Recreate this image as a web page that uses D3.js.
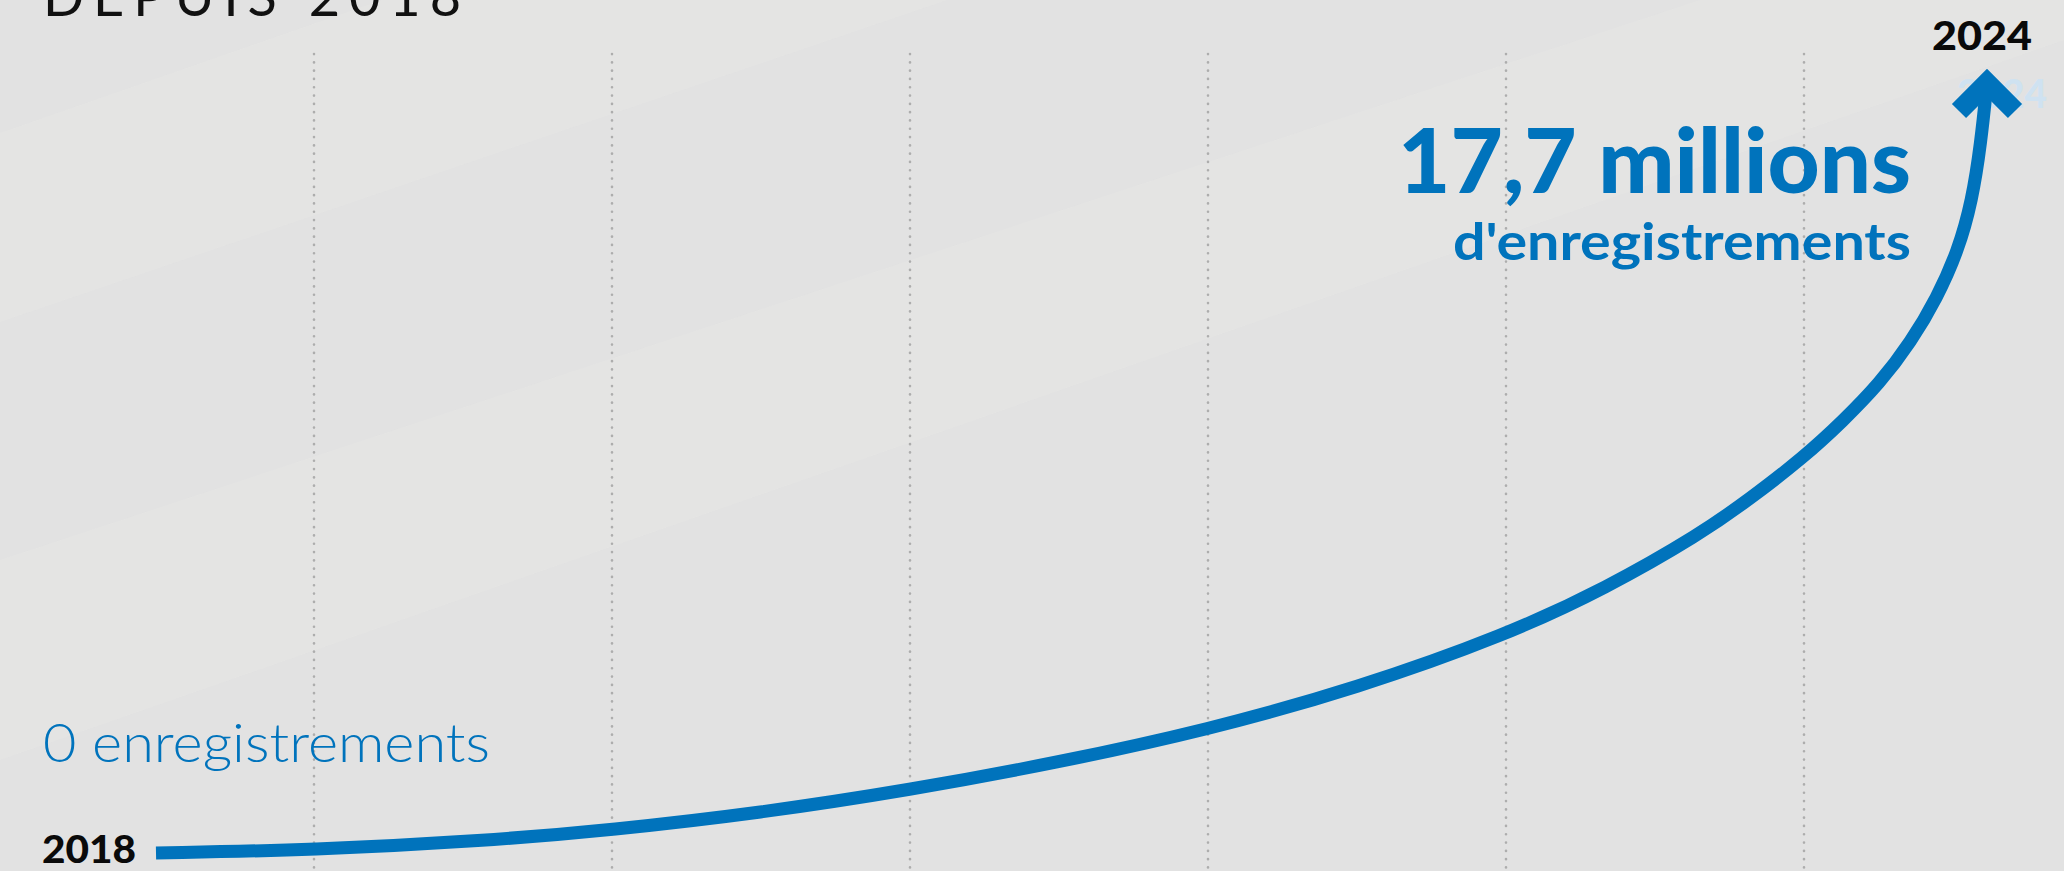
<!DOCTYPE html>
<html>
<head>
<meta charset="utf-8">
<script src="https://cdn.jsdelivr.net/npm/d3@7"></script>
<style>
  html, body { margin: 0; padding: 0; background: #e2e2e2; }
  svg { display: block; }
  text { font-family: Lato, "Open Sans", sans-serif; }
</style>
</head>
<body>
<svg id="chart" width="2064" height="871"></svg>
<script>
// ---- data ----
const title = "DEPUIS 2018";
const startLabel = "2018";
const endLabel = "2024";
const startValueLabel = "0 enregistrements";
const endValueLabel = "17,7 millions";
const endValueSub = "d'enregistrements";
// time (years) and cumulative registrations (millions)
const years  = [2018.000, 2018.518, 2019.078, 2019.494, 2019.979, 2020.471, 2020.949, 2021.447, 2021.936, 2022.424, 2022.752,
                2023.060, 2023.223, 2023.400, 2023.528, 2023.649, 2023.751, 2023.836, 2023.905, 2023.951, 2023.980, 2024.000];
const values = [0, 0.07, 0.28, 0.53, 0.92, 1.45, 2.07, 2.83, 3.79, 5.01, 6.09,
                7.33, 8.14, 9.10, 9.93, 10.80, 11.75, 12.76, 13.84, 14.99, 16.32, 17.7];
const gridIndex = [1, 2, 3, 4, 5, 6];

// ---- drawing ----
const W = 2064, H = 871;
const blue = "#0073bc";
const svg = d3.select("#chart");

// background with faint diagonal bands
svg.append("rect").attr("width", W).attr("height", H).attr("fill", "#e2e2e2");
const bands = [
  [[0,133],[382,0],[947,0],[0,322]],
  [[0,560],[1700,0],[2064,0],[2064,40],[0,760]]
];
svg.selectAll("polygon.band").data(bands).join("polygon")
  .attr("class", "band")
  .attr("points", d => d.map(p => p.join(",")).join(" "))
  .attr("fill", "#e5e5e3").attr("opacity", 0.8);

const x = d3.scaleLinear().domain([2018, 2024]).range([156, 1987]);
const y = d3.scaleLinear().domain([0, 17.7]).range([853, 83]);
const gx = d3.scaleLinear().domain([0, 7]).range([16, 2102]);

// dotted vertical grid
svg.selectAll("line.grid").data(gridIndex).join("line")
  .attr("class", "grid")
  .attr("x1", d => gx(d)).attr("x2", d => gx(d))
  .attr("y1", 54).attr("y2", H)
  .attr("stroke", "#adadad").attr("stroke-width", 2.6)
  .attr("stroke-linecap", "round")
  .attr("stroke-dasharray", "0.1,8.2");

// title (cut off at top)
svg.append("text").text(title)
  .attr("x", 43).attr("y", 16)
  .attr("font-size", 54).attr("font-weight", 400).attr("fill", "#111")
  .attr("textLength", 418).attr("lengthAdjust", "spacing");

// ghost 2024 label
svg.append("text").text(endLabel)
  .attr("x", 1957).attr("y", 108)
  .attr("font-size", 40).attr("font-weight", 900).attr("fill", "#cfe2f1")
  .attr("textLength", 90).attr("lengthAdjust", "spacingAndGlyphs");

// curve
const data = years.map((t, i) => ({ t, v: values[i] }));
const line = d3.line().x(d => x(d.t)).y(d => y(d.v)).curve(d3.curveBasis);
svg.append("path").datum(data)
  .attr("d", line)
  .attr("fill", "none").attr("stroke", blue).attr("stroke-width", 13)
  .attr("stroke-linecap", "butt");

// arrow head
const ex = x(years[years.length - 1]), ey = y(values[values.length - 1]);
svg.append("polyline")
  .attr("points", [[ex - 28, ey + 28], [ex, ey], [ex + 28, ey + 28]].map(p => p.join(",")).join(" "))
  .attr("fill", "none").attr("stroke", blue).attr("stroke-width", 20)
  .attr("stroke-linejoin", "miter").attr("stroke-linecap", "butt");

// year labels
svg.append("text").text(endLabel)
  .attr("x", 1932).attr("y", 50)
  .attr("font-size", 39).attr("font-weight", 900).attr("fill", "#0a0a0a")
  .attr("textLength", 100).attr("lengthAdjust", "spacingAndGlyphs");
svg.append("text").text(startLabel)
  .attr("x", 42).attr("y", 863)
  .attr("font-size", 37).attr("font-weight", 900).attr("fill", "#0a0a0a")
  .attr("textLength", 94).attr("lengthAdjust", "spacingAndGlyphs");

// value labels
svg.append("text").text(startValueLabel)
  .attr("x", 43).attr("y", 762)
  .attr("font-size", 54).attr("font-weight", 300).attr("fill", blue)
  .attr("textLength", 447).attr("lengthAdjust", "spacingAndGlyphs");
svg.append("text").text(endValueLabel)
  .attr("x", 1911).attr("y", 193).attr("text-anchor", "end")
  .attr("font-size", 90).attr("font-weight", 900).attr("fill", blue)
  .attr("textLength", 513).attr("lengthAdjust", "spacingAndGlyphs");
svg.append("text").text(endValueSub)
  .attr("x", 1911).attr("y", 260).attr("text-anchor", "end")
  .attr("font-size", 52).attr("font-weight", 700).attr("fill", blue)
  .attr("textLength", 458).attr("lengthAdjust", "spacingAndGlyphs");
</script>
</body>
</html>
